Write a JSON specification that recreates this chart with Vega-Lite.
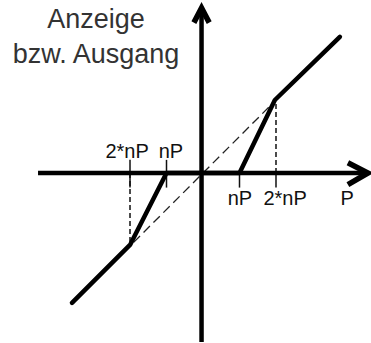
{
  "$schema": "https://vega.github.io/schema/vega-lite/v6.json",
  "width": 371,
  "height": 343,
  "padding": 0,
  "autosize": "none",
  "background": "white",
  "config": {"view": {"stroke": null}},
  "datasets": {
    "axes": [
      {"x": -4.52, "x2": 4.45, "y": 0, "y2": 0},
      {"x": -0.04, "x2": -0.04, "y": -4.63, "y2": 4.45}
    ],
    "ticks": [
      {"x": -2, "x2": -2, "y": 0.36, "y2": -0.4},
      {"x": -1, "x2": -1, "y": 0.36, "y2": -0.4},
      {"x": 1, "x2": 1, "y": 0, "y2": -0.4},
      {"x": 2, "x2": 2, "y": 0, "y2": -0.4}
    ],
    "guides": [
      {"x": -2, "x2": -2, "y": 0, "y2": -1.95},
      {"x": 2, "x2": 2, "y": 0, "y2": 1.95}
    ],
    "diagonal": [
      {"x": -1.9, "x2": 1.9, "y": -1.9, "y2": 1.9}
    ],
    "curve": [
      {"i": 0, "x": -3.59, "y": -3.56},
      {"i": 1, "x": -2.0, "y": -1.97},
      {"i": 2, "x": -1.0, "y": 0},
      {"i": 3, "x": 1.0, "y": 0},
      {"i": 4, "x": 1.97, "y": 2.0},
      {"i": 5, "x": 3.75, "y": 3.73}
    ],
    "arrows": [
      {"a": "right", "i": 0, "x": 3.97, "y": 0.28},
      {"a": "right", "i": 1, "x": 4.52, "y": 0},
      {"a": "right", "i": 2, "x": 3.97, "y": -0.32},
      {"a": "up", "i": 0, "x": -0.25, "y": 4.12},
      {"a": "up", "i": 1, "x": -0.04, "y": 4.52},
      {"a": "up", "i": 2, "x": 0.17, "y": 4.12}
    ],
    "labels": [
      {"t": "2*nP", "x": -2.08, "y": 0.41},
      {"t": "nP", "x": -0.88, "y": 0.41},
      {"t": "nP", "x": 1.01, "y": -0.88},
      {"t": "2*nP", "x": 2.25, "y": -0.88},
      {"t": "P", "x": 3.95, "y": -0.88}
    ],
    "title": [
      {"t": "Anzeige", "x": -2.93, "y": 3.97},
      {"t": "bzw. Ausgang", "x": -2.93, "y": 3.01}
    ]
  },
  "encoding": {
    "x": {"field": "x", "type": "quantitative", "axis": null, "scale": {"domain": [-5.562, 4.603], "nice": false, "zero": false}},
    "y": {"field": "y", "type": "quantitative", "axis": null, "scale": {"domain": [-4.658, 4.74], "nice": false, "zero": false}}
  },
  "layer": [
    {
      "data": {"name": "diagonal"},
      "mark": {"type": "rule", "color": "#222", "strokeWidth": 1.3, "strokeDash": [9, 5]},
      "encoding": {"x2": {"field": "x2"}, "y2": {"field": "y2"}}
    },
    {
      "data": {"name": "guides"},
      "mark": {"type": "rule", "color": "#111", "strokeWidth": 1.5, "strokeDash": [5, 3]},
      "encoding": {"x2": {"field": "x2"}, "y2": {"field": "y2"}}
    },
    {
      "data": {"name": "ticks"},
      "mark": {"type": "rule", "color": "#111", "strokeWidth": 1.5},
      "encoding": {"x2": {"field": "x2"}, "y2": {"field": "y2"}}
    },
    {
      "data": {"name": "axes"},
      "mark": {"type": "rule", "color": "#000", "strokeWidth": 4.5},
      "encoding": {"x2": {"field": "x2"}, "y2": {"field": "y2"}}
    },
    {
      "data": {"name": "arrows"},
      "mark": {"type": "line", "color": "#000", "strokeWidth": 5.5, "strokeJoin": "miter", "strokeCap": "butt"},
      "encoding": {"detail": {"field": "a"}, "order": {"field": "i", "type": "quantitative"}}
    },
    {
      "data": {"name": "curve"},
      "mark": {"type": "line", "color": "#000", "strokeWidth": 4.5, "strokeJoin": "round", "strokeCap": "round"},
      "encoding": {"order": {"field": "i", "type": "quantitative"}}
    },
    {
      "data": {"name": "labels"},
      "mark": {"type": "text", "font": "Liberation Sans", "fontSize": 20, "color": "#111", "align": "center", "baseline": "alphabetic"},
      "encoding": {"text": {"field": "t"}}
    },
    {
      "data": {"name": "title"},
      "mark": {"type": "text", "font": "Liberation Sans", "fontSize": 27, "color": "#333", "align": "center", "baseline": "alphabetic"},
      "encoding": {"text": {"field": "t"}}
    }
  ]
}
